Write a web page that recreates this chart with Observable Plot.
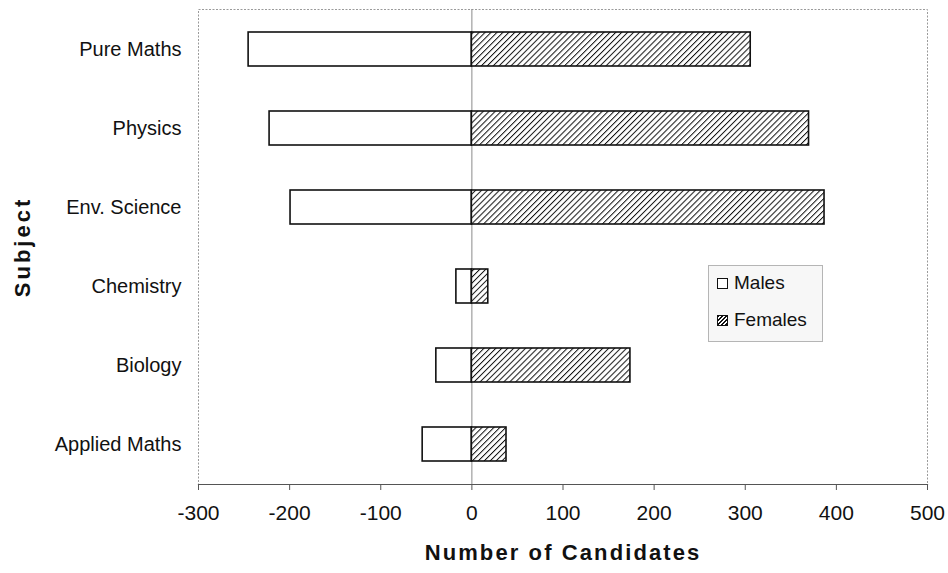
<!DOCTYPE html>
<html>
<head>
<meta charset="utf-8">
<script src="https://cdn.jsdelivr.net/npm/d3@7"></script>
<script src="https://cdn.jsdelivr.net/npm/@observablehq/plot@0.6"></script>
<style>
  html, body { margin: 0; padding: 0; background: #fff; }
  #wrap { position: relative; width: 948px; height: 573px; font-family: "Liberation Sans", Arial, sans-serif; color: #111; }
  #legend { position: absolute; left: 708px; top: 265px; width: 115px; height: 77px; border: 1px solid #b5b5b5; background: #f7f7f7; box-sizing: border-box; }
  .item { position: absolute; left: 8px; display: flex; align-items: center; font-size: 19px; }
  .sw { width: 11px; height: 11px; border: 1.5px solid #111; box-sizing: border-box; margin-right: 6px; }
</style>
</head>
<body>
<svg width="0" height="0" style="position:absolute">
  <defs>
    <pattern id="hatch" patternUnits="userSpaceOnUse" width="4.2" height="4.2" patternTransform="rotate(45)">
      <rect width="4.2" height="4.2" fill="#fff"></rect>
      <line x1="0" y1="0" x2="0" y2="4.2" stroke="#111" stroke-width="2"></line>
    </pattern>
  </defs>
</svg>
<div id="wrap">
  <div id="chart"></div>
  <div id="legend">
    <div class="item" style="top:6px"><div class="sw" style="background:#fff"></div>Males</div>
    <div class="item" style="top:43px"><div class="sw" style="background: repeating-linear-gradient(-45deg, #111 0 1.5px, #fff 1.5px 3px);"></div>Females</div>
  </div>
</div>
<script>
const subjects = ["Pure Maths", "Physics", "Env. Science", "Chemistry", "Biology", "Applied Maths"];
const males = [-245, -222, -199, -17, -39, -54];
const females = [306, 370, 387, 18, 174, 38];
const xTicks = [-300, -200, -100, 0, 100, 200, 300, 400, 500];
const xLabel = "Number of Candidates";
const yLabel = "Subject";

const rows = subjects.map((s, i) => ({subject: s, male: males[i], female: females[i]}));

const chart = Plot.plot({
  width: 948,
  height: 573,
  marginLeft: 198,
  marginRight: 21,
  marginTop: 9,
  marginBottom: 89,
  style: {fontFamily: "'Liberation Sans', Arial, sans-serif", fontSize: "20px", color: "#111", background: "transparent"},
  x: {domain: [-300, 500]},
  y: {domain: subjects, paddingInner: 0.57, paddingOuter: 0.285},
  marks: [
    Plot.frame({stroke: "#9a9a9a", strokeDasharray: "2,1.5"}),
    Plot.ruleX([0], {stroke: "#8a8a8a", strokeWidth: 1}),
    Plot.barX(rows, {y: "subject", x1: 0, x2: "male", fill: "#fff", stroke: "#111", strokeWidth: 1.6}),
    Plot.barX(rows, {y: "subject", x1: 0, x2: "female", fill: "url(#hatch)", stroke: "#111", strokeWidth: 1.6}),
    Plot.frame({anchor: "bottom", stroke: "#555", strokeWidth: 1.2}),
    Plot.axisX({ticks: xTicks, tickFormat: d => String(d), tickSize: 6, tickPadding: 15, fontSize: 21, stroke: "#555", label: null}),
    Plot.axisY({tickSize: 0, tickPadding: 17, fontSize: 20, label: null}),
    Plot.text([xLabel], {text: d => d, frameAnchor: "bottom", dy: 75, textAnchor: "middle", fontSize: 22, fontWeight: "bold", fill: "#111"}),
    Plot.text([yLabel], {text: d => d, frameAnchor: "left", dx: -176, textAnchor: "middle", rotate: -90, fontSize: 22, fontWeight: "bold", fill: "#111"})
  ]
});
d3.select(chart).selectAll("text").filter(function() { return this.textContent === xLabel; }).attr("letter-spacing", 2.1);
d3.select(chart).selectAll("text").filter(function() { return this.textContent === yLabel; }).attr("letter-spacing", 3);
document.getElementById("chart").appendChild(chart);
</script>
</body>
</html>
